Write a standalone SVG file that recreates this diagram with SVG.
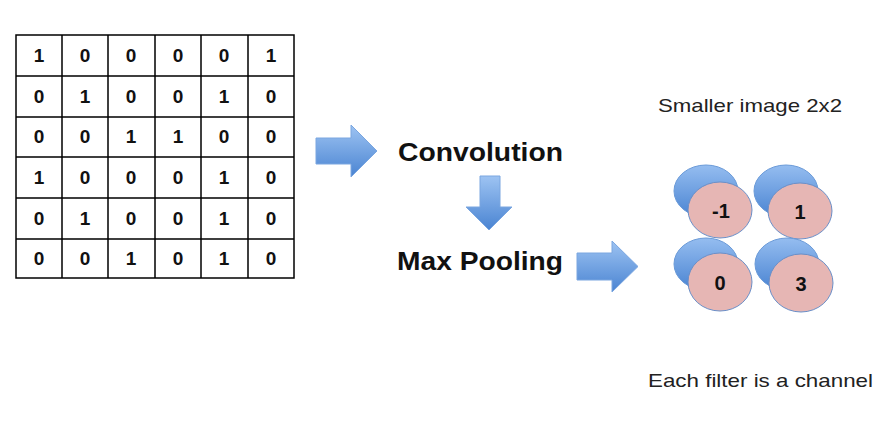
<svg xmlns="http://www.w3.org/2000/svg" width="885" height="425" viewBox="0 0 885 425">
<defs>
<linearGradient id="gArrow" x1="0" y1="0" x2="0" y2="1">
<stop offset="0" stop-color="#9dc3f2"/>
<stop offset="1" stop-color="#4a84d2"/>
</linearGradient>
<linearGradient id="gBlue" x1="0" y1="0" x2="0" y2="1">
<stop offset="0" stop-color="#95bdf0"/>
<stop offset="1" stop-color="#4a84d2"/>
</linearGradient>
</defs>
<style>
.cell{fill:#fff;stroke:#000;stroke-width:1.5}
.d{font-family:"Liberation Sans",Arial,sans-serif;font-weight:bold;font-size:19px;text-anchor:middle;fill:#111}
.lbl{font-family:"Liberation Sans",Arial,sans-serif;font-weight:bold;font-size:26px;fill:#111}
.t{font-family:"Liberation Sans",Arial,sans-serif;font-size:19px;fill:#222}
.arr{fill:url(#gArrow);stroke:#7aa6e0;stroke-width:1}
.blue{fill:url(#gBlue);stroke:#6a9ad8;stroke-width:1}
.pink{fill:#e6b6b4;stroke:#6a8fc8;stroke-width:1}
.n{font-family:"Liberation Sans",Arial,sans-serif;font-weight:bold;font-size:20px;text-anchor:middle;fill:#111}
</style>
<rect width="885" height="425" fill="#fff"/>
<g id="matrix">
<rect class="cell" x="16" y="35" width="278" height="243"/>
<path d="M62 35V278M108 35V278M155 35V278M201 35V278M248 35V278M16 76H294M16 117H294M16 157H294M16 198H294M16 239H294" stroke="#000" stroke-width="1.5" fill="none"/>
<g class="d">
<text x="39" y="62">1</text><text x="85" y="62">0</text><text x="131" y="62">0</text><text x="178" y="62">0</text><text x="224" y="62">0</text><text x="271" y="62">1</text>
<text x="39" y="103">0</text><text x="85" y="103">1</text><text x="131" y="103">0</text><text x="178" y="103">0</text><text x="224" y="103">1</text><text x="271" y="103">0</text>
<text x="39" y="143">0</text><text x="85" y="143">0</text><text x="131" y="143">1</text><text x="178" y="143">1</text><text x="224" y="143">0</text><text x="271" y="143">0</text>
<text x="39" y="184">1</text><text x="85" y="184">0</text><text x="131" y="184">0</text><text x="178" y="184">0</text><text x="224" y="184">1</text><text x="271" y="184">0</text>
<text x="39" y="225">0</text><text x="85" y="225">1</text><text x="131" y="225">0</text><text x="178" y="225">0</text><text x="224" y="225">1</text><text x="271" y="225">0</text>
<text x="39" y="265">0</text><text x="85" y="265">0</text><text x="131" y="265">1</text><text x="178" y="265">0</text><text x="224" y="265">1</text><text x="271" y="265">0</text>
</g>
</g>
<g id="connectors">
<path class="arr" d="M316 138H351V125L377 151L351 177V164H316Z"/>
<path class="arr" d="M480 176H500V207H512L489 230L466 207H480Z"/>
<path class="arr" d="M577 253H612V241L638 266.5L612 292V280H577Z"/>
</g>
<g id="convolution"><text class="lbl" x="398" y="161" textLength="165" lengthAdjust="spacingAndGlyphs">Convolution</text></g>
<g id="maxpooling"><text class="lbl" x="397" y="270" textLength="166" lengthAdjust="spacingAndGlyphs">Max Pooling</text></g>
<g id="title"><text class="t" x="658" y="112" textLength="184" lengthAdjust="spacingAndGlyphs">Smaller image 2x2</text></g>
<g id="channels">
<g id="c1"><ellipse class="blue" cx="706" cy="191" rx="32" ry="26"/><ellipse class="pink" cx="720" cy="210" rx="32" ry="28"/><text class="n" x="721" y="218">-1</text></g>
<g id="c2"><ellipse class="blue" cx="786" cy="191" rx="32" ry="26"/><ellipse class="pink" cx="800" cy="211" rx="32" ry="28"/><text class="n" x="800" y="219">1</text></g>
<g id="c3"><ellipse class="blue" cx="706" cy="264" rx="32" ry="26"/><ellipse class="pink" cx="720" cy="282" rx="32" ry="29"/><text class="n" x="720" y="290">0</text></g>
<g id="c4"><ellipse class="blue" cx="787" cy="264" rx="32" ry="26"/><ellipse class="pink" cx="801" cy="283" rx="32" ry="29"/><text class="n" x="801" y="291">3</text></g>
</g>
<g id="caption"><text class="t" x="648" y="387" textLength="225" lengthAdjust="spacingAndGlyphs">Each filter is a channel</text></g>
</svg>
